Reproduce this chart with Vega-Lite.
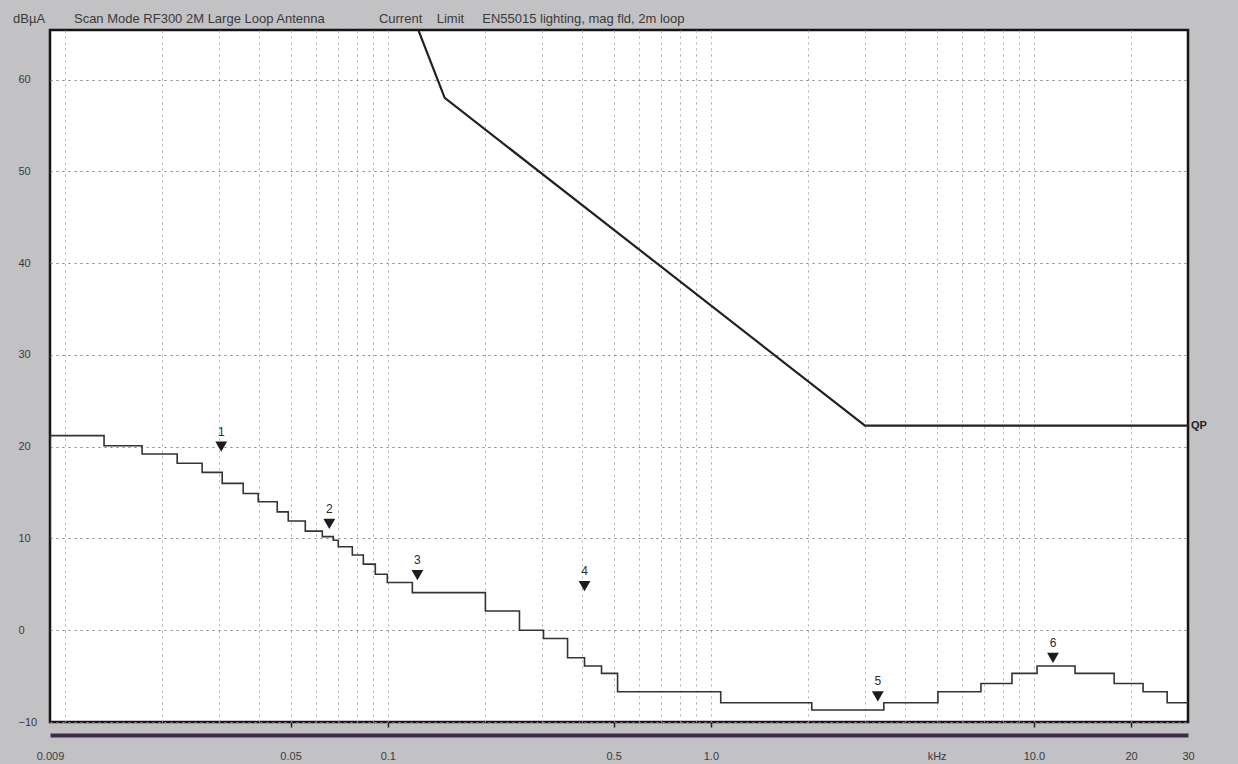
{
  "$schema": "https://vega.github.io/schema/vega-lite/v6.json",
  "width": 1138,
  "height": 692,
  "autosize": "none",
  "padding": {"left": 50, "top": 30, "right": 50, "bottom": 42},
  "background": "#c2c2c5",
  "title": {
    "text": "dBµA\u00a0\u00a0\u00a0\u00a0\u00a0\u00a0\u00a0\u00a0Scan Mode RF300 2M Large Loop Antenna\u00a0\u00a0\u00a0\u00a0\u00a0\u00a0\u00a0\u00a0\u00a0\u00a0\u00a0\u00a0\u00a0\u00a0\u00a0Current\u00a0\u00a0\u00a0\u00a0Limit\u00a0\u00a0\u00a0\u00a0\u00a0EN55015 lighting, mag fld, 2m loop",
    "anchor": "start",
    "frame": "group",
    "baseline": "bottom",
    "offset": 5,
    "dx": -37,
    "dy": 14,
    "font": "Liberation Sans",
    "fontSize": 13,
    "fontWeight": "normal",
    "color": "#3a3a3a"
  },
  "datasets": {
    "trace": [
      {"f": 0.009, "v": 10.0},
      {"f": 0.009, "v": 21.2},
      {"f": 0.01323, "v": 20.1},
      {"f": 0.01735, "v": 19.2},
      {"f": 0.02228, "v": 18.2},
      {"f": 0.02662, "v": 17.2},
      {"f": 0.03071, "v": 16.0},
      {"f": 0.03567, "v": 14.9},
      {"f": 0.03971, "v": 14.0},
      {"f": 0.04546, "v": 12.9},
      {"f": 0.04918, "v": 11.9},
      {"f": 0.05553, "v": 10.8},
      {"f": 0.06269, "v": 10.2},
      {"f": 0.0678, "v": 9.8},
      {"f": 0.07026, "v": 9.1},
      {"f": 0.07764, "v": 8.2},
      {"f": 0.08399, "v": 7.2},
      {"f": 0.09148, "v": 6.1},
      {"f": 0.09963, "v": 5.2},
      {"f": 0.1191, "v": 4.1},
      {"f": 0.2005, "v": 2.1},
      {"f": 0.2556, "v": 0.0},
      {"f": 0.3034, "v": -0.9},
      {"f": 0.3601, "v": -3.0},
      {"f": 0.4064, "v": -3.9},
      {"f": 0.4588, "v": -4.7},
      {"f": 0.5144, "v": -6.7},
      {"f": 1.073, "v": -7.9},
      {"f": 2.053, "v": -8.7},
      {"f": 3.432, "v": -7.9},
      {"f": 5.047, "v": -6.7},
      {"f": 6.857, "v": -5.8},
      {"f": 8.555, "v": -4.7},
      {"f": 10.23, "v": -3.9},
      {"f": 13.41, "v": -4.7},
      {"f": 17.72, "v": -5.8},
      {"f": 21.78, "v": -6.7},
      {"f": 25.86, "v": -7.9},
      {"f": 30, "v": -7.9}
    ],
    "limit": [
      {"f": 0.07, "v": 88},
      {"f": 0.15, "v": 58},
      {"f": 3, "v": 22.3},
      {"f": 30, "v": 22.3}
    ],
    "markers": [
      {"f": 0.0305, "v": 20.0, "n": "1"},
      {"f": 0.0659, "v": 11.6, "n": "2"},
      {"f": 0.1235, "v": 6.0, "n": "3"},
      {"f": 0.4064, "v": 4.8, "n": "4"},
      {"f": 3.288, "v": -7.2, "n": "5"},
      {"f": 11.46, "v": -3.0, "n": "6"}
    ],
    "qp": [
      {"f": 30, "v": 22.3, "t": "QP"}
    ]
  },
  "resolve": {"axis": {"x": "independent", "y": "independent"}},
  "layer": [
    {
      "data": {"name": "trace"},
      "mark": {"type": "line", "interpolate": "step-after", "color": "#333333", "strokeWidth": 1.6, "clip": true},
      "encoding": {
        "x": {
          "field": "f", "type": "quantitative",
          "scale": {"type": "log", "domain": [0.009, 30], "nice": false},
          "axis": {
            "orient": "bottom",
            "title": null, "labels": false, "ticks": false, "domain": false,
            "grid": true, "gridColor": "#b09aab", "gridDash": [2, 4], "gridWidth": 1, "gridOpacity": 0.9,
            "values": [0.01, 0.02, 0.03, 0.04, 0.05, 0.06, 0.07, 0.08, 0.09, 0.1, 0.2, 0.3, 0.4, 0.5, 0.6, 0.7, 0.8, 0.9, 1, 2, 3, 4, 5, 6, 7, 8, 9, 10, 20]
          }
        },
        "y": {
          "field": "v", "type": "quantitative",
          "scale": {"domain": [-10, 65.4], "nice": false, "zero": false},
          "axis": {
            "orient": "left",
            "values": [-10, 0, 10, 20, 30, 40, 50, 60],
            "grid": true, "gridColor": "#8a7d8a", "gridDash": [2, 4], "gridWidth": 1.2,
            "domain": false, "ticks": false, "tickSize": 0,
            "labelAlign": "left", "labelPadding": 32, "labelBaseline": "middle",
            "labelFont": "Liberation Sans", "labelFontSize": 11, "labelColor": "#3a3a3a",
            "title": null
          }
        },
        "order": {"value": 0}
      }
    },
    {
      "data": {"name": "limit"},
      "mark": {"type": "line", "color": "#222222", "strokeWidth": 2.2, "clip": true},
      "encoding": {
        "x": {
          "field": "f", "type": "quantitative",
          "scale": {"type": "log", "domain": [0.009, 30], "nice": false},
          "axis": {
            "orient": "bottom",
            "title": null, "labels": false, "grid": false, "domain": false,
            "ticks": true, "tickSize": 5, "tickColor": "#222222", "tickWidth": 1.5,
            "values": [0.05, 0.1, 0.5, 1, 10, 20]
          }
        },
        "y": {
          "field": "v", "type": "quantitative",
          "scale": {"domain": [-10, 65.4], "nice": false, "zero": false},
          "axis": null
        }
      }
    },
    {
      "data": {"name": "markers"},
      "mark": {"type": "point", "shape": "triangle-down", "filled": true, "color": "#1c1c1c", "size": 140, "opacity": 1},
      "encoding": {
        "x": {
          "field": "f", "type": "quantitative",
          "scale": {"type": "log", "domain": [0.009, 30], "nice": false},
          "axis": {
            "orient": "bottom",
            "title": null, "grid": false, "ticks": false, "tickSize": 0,
            "offset": 13, "domain": true, "domainColor": "#3d2a4c", "domainWidth": 4,
            "labelPadding": 15, "labelFlush": false, "labelOverlap": false,
            "labelFont": "Liberation Sans", "labelFontSize": 11, "labelColor": "#3a3a3a",
            "values": [0.009, 0.05, 0.1, 0.5, 1, 5, 10, 20, 30],
            "labelExpr": "datum.value < 0.01 ? '0.009' : datum.value < 0.06 ? '0.05' : datum.value < 0.2 ? '0.1' : datum.value < 0.6 ? '0.5' : datum.value < 2 ? '1.0' : datum.value < 6 ? 'kHz' : datum.value < 15 ? '10.0' : datum.value < 25 ? '20' : '30'"
          }
        },
        "y": {
          "field": "v", "type": "quantitative",
          "scale": {"domain": [-10, 65.4], "nice": false, "zero": false},
          "axis": null
        }
      }
    },
    {
      "data": {"name": "markers"},
      "mark": {"type": "text", "dy": -15, "baseline": "middle", "align": "center", "font": "Liberation Sans", "fontSize": 12, "color": "#2a2a2a"},
      "encoding": {
        "x": {"field": "f", "type": "quantitative", "scale": {"type": "log", "domain": [0.009, 30], "nice": false}, "axis": null},
        "y": {"field": "v", "type": "quantitative", "scale": {"domain": [-10, 65.4], "nice": false, "zero": false}, "axis": null},
        "text": {"field": "n"}
      }
    },
    {
      "data": {"name": "qp"},
      "mark": {"type": "text", "dx": 3, "align": "left", "baseline": "middle", "font": "Liberation Sans", "fontSize": 11, "fontWeight": "bold", "color": "#222222"},
      "encoding": {
        "x": {"field": "f", "type": "quantitative", "scale": {"type": "log", "domain": [0.009, 30], "nice": false}, "axis": null},
        "y": {"field": "v", "type": "quantitative", "scale": {"domain": [-10, 65.4], "nice": false, "zero": false}, "axis": null},
        "text": {"field": "t"}
      }
    }
  ],
  "config": {
    "view": {"stroke": "#141414", "strokeWidth": 2.5, "fill": "white"},
    "font": "Liberation Sans"
  }
}
